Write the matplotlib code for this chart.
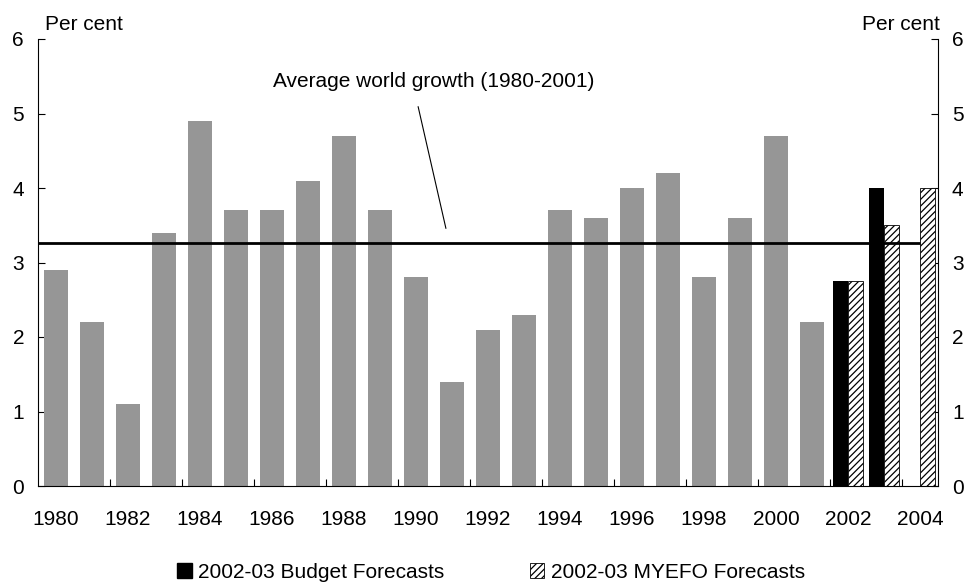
import numpy as np
import matplotlib
matplotlib.use('Agg')
import matplotlib.pyplot as plt
from matplotlib.patches import Patch

plt.rcParams['font.family'] = ['Liberation Sans', 'DejaVu Sans']
plt.rcParams['font.size'] = 15
plt.rcParams['hatch.linewidth'] = 0.9

# World GDP growth, per cent
years = list(range(1980, 2002))
growth = [2.9, 2.2, 1.1, 3.4, 4.9, 3.7, 3.7, 4.1, 4.7, 3.7, 2.8,
          1.4, 2.1, 2.3, 3.7, 3.6, 4.0, 4.2, 2.8, 3.6, 4.7, 2.2]

# Forecasts
fc_years = [2002, 2003, 2004]
budget = [2.75, 4.0, np.nan]
myefo = [2.75, 3.5, 4.0]

label_avg = 'Average world growth (1980-2001)'
label_budget = '2002-03 Budget Forecasts'
label_myefo = '2002-03 MYEFO Forecasts'

avg = np.mean(growth)

fig = plt.figure(figsize=(9.66, 5.82), dpi=100)
ax = fig.add_axes([38 / 966, 1 - 486 / 582, 900 / 966, 447 / 582])

ax.bar(years, growth, width=0.69, color='#969696', zorder=2)
fc = np.array(fc_years)
ax.bar(fc - 0.21, budget, width=0.42, color='black', zorder=2)
ax.bar(fc + 0.21, myefo, width=0.42, color='white', edgecolor='black',
       hatch='/////', linewidth=0.6, zorder=2)

# average line, stops at the last forecast bar
ax.hlines(avg, 1979.5, 2004.0, color='black', lw=2.0, zorder=3)
ax.text(1990.5, 5.36, label_avg, ha='center', va='baseline')
ax.plot([1990.06, 1990.83], [5.09, 3.46], color='black', lw=0.8, zorder=3)

ax.set_xlim(1979.5, 2004.5)
ax.set_ylim(0, 6)
ax.set_xticks(range(1980, 2005, 2))
ax.set_xticks(np.arange(1981.5, 2004, 2), minor=True)
ax.tick_params(axis='x', which='major', length=0, pad=17)
ax.tick_params(axis='x', which='minor', length=5, direction='in', width=0.8)
ax.set_yticks(range(0, 7))
ax.tick_params(axis='y', direction='in', length=5, width=0.8, pad=10,
               left=True, right=True, labelleft=True, labelright=True)
ax.spines['top'].set_visible(False)
for s in ['left', 'right', 'bottom']:
    ax.spines[s].set_linewidth(0.8)

fig.text(45 / 966, 1 - 30 / 582, 'Per cent', ha='left', va='baseline')
fig.text(940 / 966, 1 - 30 / 582, 'Per cent', ha='right', va='baseline')

handles = [Patch(facecolor='black', edgecolor='black'),
           Patch(facecolor='white', edgecolor='black', hatch='/////', linewidth=0.6)]
fig.legend(handles, [label_budget, label_myefo], loc='center',
           bbox_to_anchor=(491 / 966, 1 - 572 / 582), ncol=2, frameon=False,
           handlelength=0.7, handleheight=0.7, handletextpad=0.3,
           columnspacing=4.1, borderpad=0)

fig.savefig('out.png', dpi=100)
